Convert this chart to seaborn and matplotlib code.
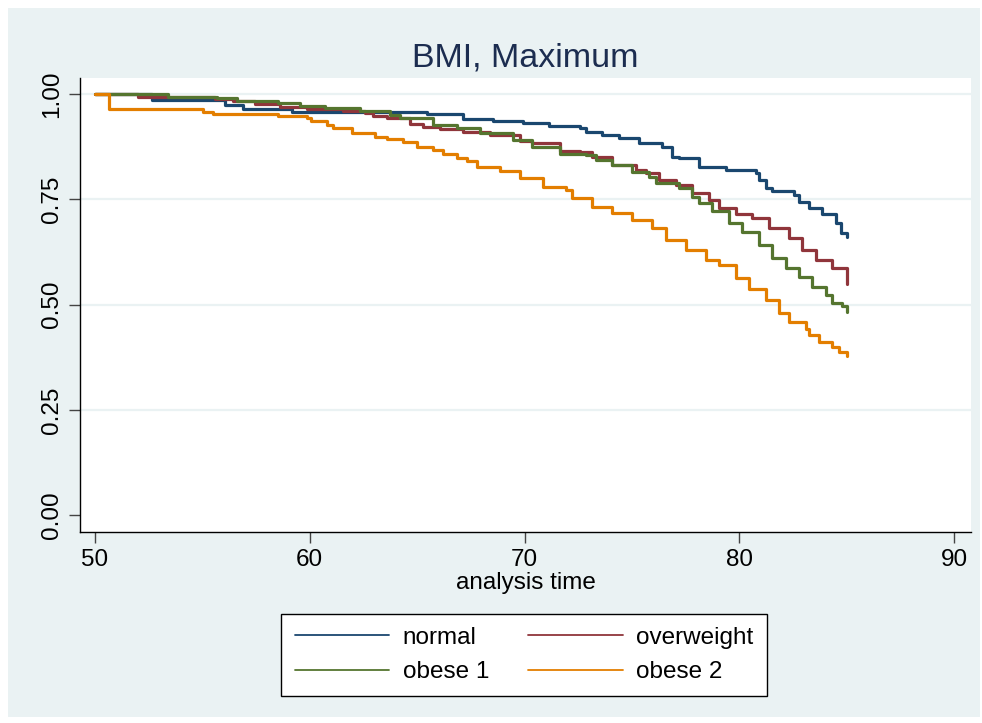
import numpy as np
import pandas as pd
import matplotlib
matplotlib.use("Agg")
import matplotlib.pyplot as plt
from matplotlib.patches import Rectangle
from matplotlib.lines import Line2D
import seaborn as sns

# ---- data (time, survival) ----
GROUPS = ["normal", "overweight", "obese 1", "obese 2"]
COLORS = ["#1A476F", "#90353B", "#55752F", "#E37E00"]

t_normal = [50.00, 52.65, 56.05, 56.88, 59.16, 65.44, 67.12, 68.51, 69.91, 71.16,
            72.56, 72.88, 73.63, 74.42, 75.35, 76.42, 76.88, 77.21, 78.14, 79.40,
            80.79, 80.93, 81.26, 81.53, 82.56, 82.79, 83.26, 83.86, 84.51, 84.74, 85.00]
s_normal = [1.000, 0.986, 0.973, 0.964, 0.957, 0.952, 0.941, 0.935, 0.931, 0.924,
            0.919, 0.910, 0.903, 0.895, 0.884, 0.874, 0.850, 0.848, 0.827, 0.819,
            0.812, 0.796, 0.777, 0.770, 0.760, 0.743, 0.729, 0.715, 0.694, 0.670, 0.660]

t_over = [50.00, 52.00, 55.58, 56.42, 57.44, 58.60, 59.86, 61.53, 62.56, 62.93,
          63.58, 64.65, 65.26, 66.05, 67.12, 68.37, 69.77, 70.37, 71.63, 72.56,
          73.16, 74.09, 75.21, 75.67, 76.28, 77.07, 77.81, 78.60, 79.07, 79.86,
          80.60, 81.40, 82.33, 82.93, 83.58, 84.33, 85.00]
s_over = [1.000, 0.992, 0.989, 0.983, 0.976, 0.969, 0.964, 0.960, 0.954, 0.948,
          0.942, 0.929, 0.922, 0.918, 0.910, 0.903, 0.889, 0.883, 0.865, 0.862,
          0.851, 0.831, 0.819, 0.813, 0.796, 0.784, 0.764, 0.748, 0.729, 0.715,
          0.705, 0.681, 0.657, 0.629, 0.606, 0.586, 0.550]

t_ob1 = [50.00, 53.40, 55.67, 56.60, 58.51, 59.53, 60.70, 62.33, 63.72, 64.19,
         65.72, 66.84, 67.91, 69.44, 70.37, 71.63, 72.88, 73.35, 74.09, 75.02,
         75.81, 76.14, 77.21, 77.81, 78.14, 78.74, 79.53, 80.14, 80.93, 81.53,
         82.19, 82.79, 83.40, 84.05, 84.33, 84.79, 85.00]
s_ob1 = [1.000, 0.994, 0.990, 0.983, 0.978, 0.971, 0.966, 0.960, 0.950, 0.943,
         0.926, 0.919, 0.907, 0.891, 0.875, 0.857, 0.855, 0.843, 0.831, 0.815,
         0.804, 0.788, 0.776, 0.756, 0.741, 0.722, 0.694, 0.673, 0.641, 0.610,
         0.587, 0.566, 0.542, 0.523, 0.504, 0.496, 0.483]

t_ob2 = [50.00, 50.65, 55.02, 55.49, 58.51, 59.86, 60.05, 60.79, 61.07, 61.95,
         63.02, 63.58, 64.33, 64.98, 65.72, 66.19, 66.84, 67.30, 67.77, 68.84,
         69.77, 70.84, 71.95, 72.23, 73.16, 74.09, 75.02, 75.95, 76.60, 77.53,
         78.47, 79.07, 79.86, 80.47, 81.26, 81.86, 82.33, 83.12, 83.26, 83.72,
         84.33, 84.65, 85.00]
s_ob2 = [1.000, 0.964, 0.958, 0.952, 0.948, 0.942, 0.935, 0.926, 0.919, 0.907,
         0.899, 0.893, 0.885, 0.875, 0.867, 0.857, 0.847, 0.841, 0.827, 0.818,
         0.800, 0.780, 0.772, 0.752, 0.732, 0.717, 0.701, 0.681, 0.653, 0.629,
         0.606, 0.594, 0.562, 0.538, 0.511, 0.479, 0.459, 0.443, 0.428, 0.412,
         0.400, 0.388, 0.378]

X_TICKS = [50, 60, 70, 80, 90]
Y_TICKS = [0.00, 0.25, 0.50, 0.75, 1.00]
Y_LABELS = ["0.00", "0.25", "0.50", "0.75", "1.00"]

BG = "#EAF2F3"

df = pd.concat([
    pd.DataFrame({"time": t, "surv": s, "group": g})
    for t, s, g in zip([t_normal, t_over, t_ob1, t_ob2],
                       [s_normal, s_over, s_ob1, s_ob2], GROUPS)
], ignore_index=True)

sns.set_theme(style="white")
plt.rcParams["font.family"] = ["Liberation Sans", "DejaVu Sans"]
plt.rcParams["text.color"] = "black"

W, H = 982, 723
fig = plt.figure(figsize=(W / 100, H / 100), dpi=100, facecolor="white")
fig.patches.append(Rectangle((8 / W, 6 / H), 972 / W, 709 / H, transform=fig.transFigure,
                             facecolor=BG, edgecolor="none", zorder=-10))

ax = fig.add_axes([80 / W, (H - 532) / H, 891 / W, 454 / H])
ax.set_zorder(1)
ax.set_facecolor("white")

for yv in Y_TICKS[1:]:
    ax.axhline(yv, color=BG, lw=1.6, zorder=0)

sns.lineplot(data=df, x="time", y="surv", hue="group", hue_order=GROUPS,
             palette=COLORS, estimator=None, sort=False, drawstyle="steps-post",
             linewidth=2.3, legend=False, ax=ax)

ax.set_xlim(49.30, 90.79)
ax.set_ylim(-0.040, 1.038)
ax.set_xticks(X_TICKS)
ax.set_yticks(Y_TICKS)
ax.set_yticklabels(Y_LABELS, rotation=90, va="center")
ax.tick_params(axis="both", direction="out", length=8, width=1, color="#444444",
               labelsize=17.5, labelcolor="black", bottom=True, left=True)
ax.tick_params(axis="x", pad=4)
ax.tick_params(axis="y", pad=4)
for side in ["top", "right"]:
    ax.spines[side].set_visible(False)
for side in ["left", "bottom"]:
    ax.spines[side].set_color("black")
    ax.spines[side].set_linewidth(1)

ax.set_xlabel("analysis time", fontsize=17.5, color="black", labelpad=1)
ax.set_ylabel("")
ax.set_title("BMI, Maximum", fontsize=24.5, color="#1C2D50", pad=8)

# legend filled row by row like the original: normal, overweight / obese 1, obese 2
order = [0, 2, 1, 3]
handles = [Line2D([0], [0], color=COLORS[i], lw=1.3) for i in order]
labels = [GROUPS[i] for i in order]
leg = fig.legend(handles, labels, ncol=2, loc="center",
                 bbox_to_anchor=(524 / W, (H - 655) / H), fontsize=17.5,
                 frameon=True, fancybox=False, edgecolor="black",
                 facecolor="white", framealpha=1, handlelength=3.9,
                 handletextpad=0.55, columnspacing=1.6, labelspacing=0.5,
                 borderpad=0.55)
leg.get_frame().set_linewidth(1)
for txt in leg.get_texts():
    txt.set_color("black")

fig.savefig("out.png", dpi=100, facecolor=fig.get_facecolor())
